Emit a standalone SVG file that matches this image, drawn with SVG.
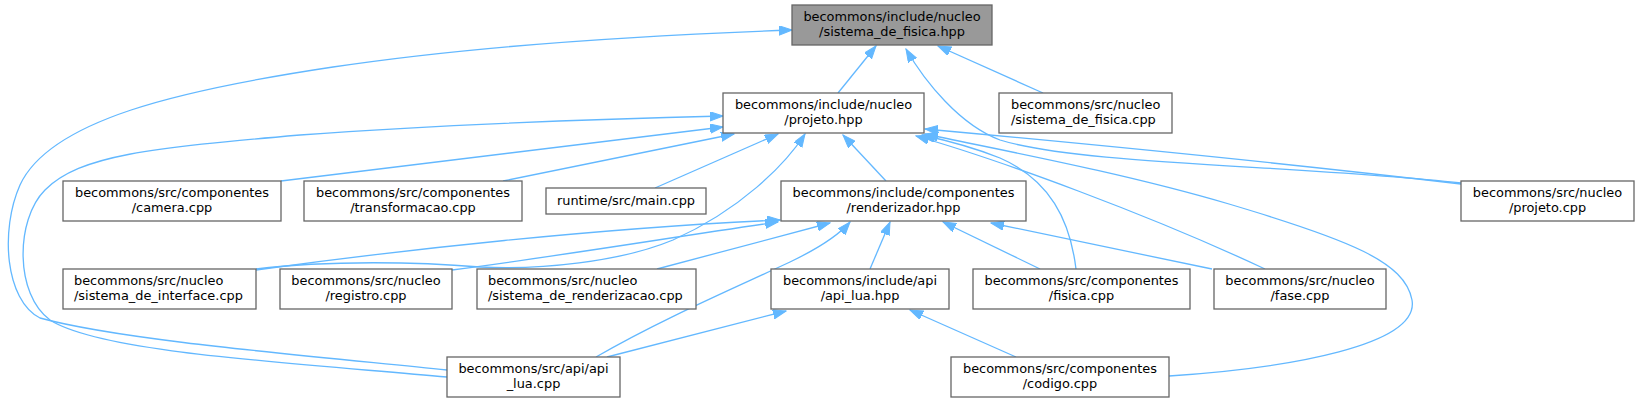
<svg xmlns="http://www.w3.org/2000/svg" width="1639" height="403" viewBox="0 0 1639 403">
<style>
.n rect{fill:#ffffff;stroke:#666666;stroke-width:1.3}
.n.g rect{fill:#999999}
.n text{font-family:"DejaVu Sans","Liberation Sans",sans-serif;font-size:12.9px;fill:#000000;text-anchor:middle}
.n text.l{text-anchor:start}
.e path{fill:none;stroke:#63b8ff;stroke-width:1.3;marker-end:url(#ah)}
</style>
<defs>
<marker id="ah" markerUnits="userSpaceOnUse" markerWidth="14" markerHeight="10" refX="13" refY="4.7" orient="auto">
<path d="M0,0 L13,4.7 L0,9.4 z" fill="#63b8ff" stroke="#63b8ff" stroke-width="1"/>
</marker>
</defs>
<rect width="1639" height="403" fill="#ffffff"/>
<g class="e" id="edges">
<path d="M838,93 L876,46"/>
<path d="M1043,93 L938,46"/>
<path d="M1461,183 C1300,165 1080,165 1000,140 C960,125 925,82 906,49"/>
<path d="M447,370 C300,355 120,340 40,318 C5,300 0,230 20,185 C50,120 180,90 333,67 C480,45 650,35 792,30"/>
<path d="M447,377 C280,362 100,352 50,320 C15,295 15,220 45,190 C80,155 150,148 300,135 C450,124 600,119 723,116"/>
<path d="M281,181 L723,127"/>
<path d="M503,181 L734,134"/>
<path d="M655,188 L778,134"/>
<path d="M256,269 C330,260 420,262 480,267 C540,270 620,262 673,240 C740,210 785,165 805,134"/>
<path d="M886,181 L843,135"/>
<path d="M1076,269 C1070,220 1050,180 1000,158 C970,146 945,140 922,135"/>
<path d="M1265,269 C1150,215 1000,160 916,136"/>
<path d="M1169,376 C1290,368 1420,345 1412,300 C1405,262 1350,240 1229,204 C1120,172 1000,150 925,134"/>
<path d="M1461,184 C1300,165 1100,145 925,129"/>
<path d="M256,270 C400,250 600,228 780,220"/>
<path d="M452,270 C560,256 680,236 778,222"/>
<path d="M657,269 L830,223"/>
<path d="M596,357 C660,320 730,290 790,262 C815,250 838,236 850,222"/>
<path d="M870,269 L890,222"/>
<path d="M1040,269 L943,222"/>
<path d="M1212,269 L991,223"/>
<path d="M607,357 L786,311"/>
<path d="M1016,357 L910,310"/>
</g>
<g class="n g" id="node_sistema_de_fisica_hpp"><rect x="792" y="5" width="200" height="40"/><text x="892" y="21">becommons/include/nucleo</text><text x="892" y="36">/sistema_de_fisica.hpp</text></g>
<g class="n" id="node_projeto_hpp"><rect x="723" y="93" width="201" height="40"/><text x="823.5" y="109">becommons/include/nucleo</text><text x="823.5" y="124">/projeto.hpp</text></g>
<g class="n" id="node_sistema_de_fisica_cpp"><rect x="999" y="93" width="173" height="40"/><text class="l" x="1011" y="109">becommons/src/nucleo</text><text class="l" x="1011" y="124">/sistema_de_fisica.cpp</text></g>
<g class="n" id="node_camera_cpp"><rect x="63" y="181" width="218" height="40"/><text x="172" y="197">becommons/src/componentes</text><text x="172" y="212">/camera.cpp</text></g>
<g class="n" id="node_transformacao_cpp"><rect x="304" y="181" width="218" height="40"/><text x="413" y="197">becommons/src/componentes</text><text x="413" y="212">/transformacao.cpp</text></g>
<g class="n" id="node_main_cpp"><rect x="546" y="188" width="160" height="26"/><text x="626" y="205">runtime/src/main.cpp</text></g>
<g class="n" id="node_renderizador_hpp"><rect x="781" y="181" width="245" height="40"/><text x="903.5" y="197">becommons/include/componentes</text><text x="903.5" y="212">/renderizador.hpp</text></g>
<g class="n" id="node_projeto_cpp"><rect x="1461" y="181" width="173" height="40"/><text x="1547.5" y="197">becommons/src/nucleo</text><text x="1547.5" y="212">/projeto.cpp</text></g>
<g class="n" id="node_sistema_de_interface_cpp"><rect x="63" y="269" width="193" height="40"/><text class="l" x="74" y="285">becommons/src/nucleo</text><text class="l" x="74" y="300">/sistema_de_interface.cpp</text></g>
<g class="n" id="node_registro_cpp"><rect x="280" y="269" width="172" height="40"/><text x="366" y="285">becommons/src/nucleo</text><text x="366" y="300">/registro.cpp</text></g>
<g class="n" id="node_sistema_de_renderizacao_cpp"><rect x="477" y="269" width="219" height="40"/><text class="l" x="488" y="285">becommons/src/nucleo</text><text class="l" x="488" y="300">/sistema_de_renderizacao.cpp</text></g>
<g class="n" id="node_api_lua_hpp"><rect x="771" y="269" width="178" height="40"/><text x="860" y="285">becommons/include/api</text><text x="860" y="300">/api_lua.hpp</text></g>
<g class="n" id="node_fisica_cpp"><rect x="973" y="269" width="217" height="40"/><text x="1081.5" y="285">becommons/src/componentes</text><text x="1081.5" y="300">/fisica.cpp</text></g>
<g class="n" id="node_fase_cpp"><rect x="1214" y="269" width="172" height="40"/><text x="1300" y="285">becommons/src/nucleo</text><text x="1300" y="300">/fase.cpp</text></g>
<g class="n" id="node_api_lua_cpp"><rect x="447" y="357" width="173" height="40"/><text x="533.5" y="373">becommons/src/api/api</text><text x="533.5" y="388">_lua.cpp</text></g>
<g class="n" id="node_codigo_cpp"><rect x="951" y="357" width="218" height="40"/><text x="1060" y="373">becommons/src/componentes</text><text x="1060" y="388">/codigo.cpp</text></g>
</svg>
